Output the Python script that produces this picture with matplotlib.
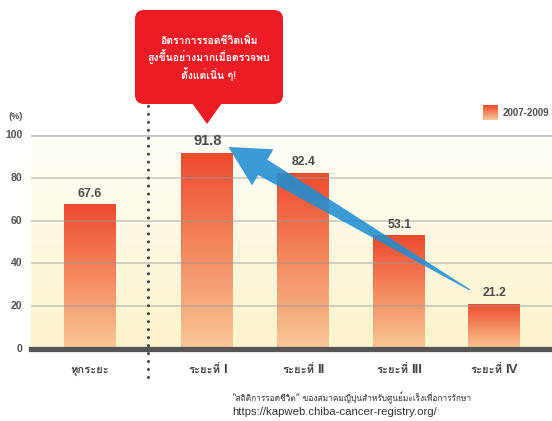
import matplotlib
matplotlib.use('Agg')
import matplotlib.pyplot as plt
import numpy as np
from matplotlib.patches import FancyBboxPatch, Polygon
from matplotlib.colors import LinearSegmentedColormap
from matplotlib.offsetbox import TextArea, HPacker, AnnotationBbox

# ---- data ----
categories = ["ทุกระยะ", "ระยะที่ I", "ระยะที่ II", "ระยะที่ III", "ระยะที่ IV"]
values = [67.6, 91.8, 82.4, 53.1, 21.2]
yticks = [0, 20, 40, 60, 80, 100]
legend_label = "2007-2009"
callout = "อัตราการรอดชีวิตเพิ่ม\nสูงขึ้นอย่างมากเมื่อตรวจพบ\nตั้งแต่เนิ่น ๆ!"
source1 = "“สถิติการรอดชีวิต” ของสมาคมญี่ปุ่นสำหรับศูนย์มะเร็งเพื่อการรักษา"
source2 = "https://kapweb.chiba-cancer-registry.org/"

FAM = ["Liberation Sans", "Loma", "DejaVu Sans"]
THAI = ["Loma", "DejaVu Sans"]
plt.rcParams['font.family'] = FAM

W, H = 552, 421
fig = plt.figure(figsize=(W / 100, H / 100), dpi=100)

ax_l, ax_r = 31, 552
y0_pix, y100_pix = 349, 135
ax = fig.add_axes([ax_l / W, (H - y0_pix) / H, (ax_r - ax_l) / W, (y0_pix - y100_pix) / H])
ax.set_axis_off()

x = np.array([0, 1.22, 2.22, 3.22, 4.21])
bw = 0.54
xmin, xmax = -0.615, 4.81

# background gradient
bg = LinearSegmentedColormap.from_list('bg', ['#FBF4CB', '#FFFEF8'])
ax.imshow(np.linspace(0, 1, 256).reshape(-1, 1), cmap=bg, origin='lower', aspect='auto',
          extent=[xmin, xmax, 0, 100], zorder=0)

# bars with gradient
barcm = LinearSegmentedColormap.from_list('bar', ['#F9C898', '#F48A5E', '#EE4A2E'])
bars = ax.bar(x, values, width=bw, facecolor='none', edgecolor='none', zorder=2)
for b, v in zip(bars, values):
    im = ax.imshow(np.linspace(0, 1, 256).reshape(-1, 1), cmap=barcm, origin='lower', aspect='auto',
                   extent=[b.get_x(), b.get_x() + b.get_width(), 0, v], zorder=2)
    im.set_clip_path(b)

# gridlines
for t in yticks[1:-1]:
    ax.axhline(t, color='#9a9a9a', lw=1.1, alpha=0.55, zorder=3)
ax.axhline(100, color='#c3c3c3', lw=2.6, zorder=3)
ax.axhline(0, color='#555555', lw=3.8, zorder=4, clip_on=False)

ax.set_xlim(xmin, xmax)
ax.set_ylim(0, 100)

# tick labels
for t in yticks:
    ax.text(xmin - 0.09, t, str(t), ha='right', va='center', fontsize=7.5, fontweight='bold',
            color='#505050', clip_on=False)
ax.text(xmin - 0.16, 108.5, "(%)", ha='center', va='center', fontsize=6.5, fontweight='bold',
        color='#505050', clip_on=False)

# value labels
for xi, v in zip(x, values):
    fs = 10.5 if v == max(values) else 8.8
    ax.text(xi, v + 2.0, f"{v:.1f}", ha='center', va='bottom', fontsize=fs, fontweight='bold',
            color='#4a4a4a', zorder=6)

# category labels: Thai part small, Roman numeral larger
for xi, c in zip(x, categories):
    parts = c.split(' ')
    children = [TextArea(parts[0], textprops=dict(fontsize=8, fontweight='bold', color='#444444',
                                                  family=THAI))]
    if len(parts) > 1:
        children.append(TextArea(parts[1], textprops=dict(fontsize=9.5, fontweight='bold',
                                                          color='#444444',
                                                          family=["Liberation Sans Narrow",
                                                                  "Liberation Sans"])))
    pack = HPacker(children=children, sep=2, pad=0, align='baseline')
    ab = AnnotationBbox(pack, (xi, -10.0), xycoords='data', frameon=False, box_alignment=(0.5, 0.5),
                        annotation_clip=False, pad=0)
    ax.add_artist(ab)

# dotted separator
sep_x = (x[0] + x[1]) / 2 - 0.01
ax.plot([sep_x, sep_x], [-13.2, 120.5], color='#444444', lw=2.2, ls=(0, (0.01, 2.6)),
        dash_capstyle='round', clip_on=False, zorder=5)

# arrow from stage IV to stage I (display coordinates)
tail = ax.transData.transform((x[4] - 0.255, values[4] + 6.4))
tip = ax.transData.transform((x[1] + 0.22, values[1] + 2.6))
u = (tip - tail) / np.linalg.norm(tip - tail)
n = np.array([-u[1], u[0]])
L, hw, sw, tw = 40, 21, 9, 0.6
base = tip - u * L
pts = [tail + n * tw, base + n * sw, base + n * hw, tip, base - n * hw, base - n * sw, tail - n * tw]
arrow = Polygon(pts, closed=True, transform=None, facecolor='#1F8ED4', edgecolor='none',
                alpha=0.88, zorder=5)
fig.patches.append(arrow)
arrow.set_figure(fig)

# overlay axes in pixel coordinates
ov = fig.add_axes([0, 0, 1, 1])
ov.set_xlim(0, W)
ov.set_ylim(H, 0)
ov.set_axis_off()
ov.patch.set_alpha(0)

box = FancyBboxPatch((135, 10), 148, 94, boxstyle="round,pad=0,rounding_size=9",
                     facecolor='#ED1C24', edgecolor='none', zorder=6)
ov.add_patch(box)
ov.add_patch(Polygon([(192, 103), (222, 103), (207, 124)], closed=True, facecolor='#ED1C24',
                     edgecolor='none', zorder=6))
ov.text(209, 58, callout, ha='center', va='center', fontsize=7.5, fontweight='bold',
        color='white', linespacing=1.3, zorder=7, family=THAI)

# legend
leg = ov.inset_axes([483, 105, 15, 15], transform=ov.transData)
leg.imshow(np.linspace(0, 1, 64).reshape(-1, 1), cmap=barcm, origin='lower', aspect='auto')
leg.set_axis_off()
ov.text(503, 112.5, legend_label, ha='left', va='center', fontsize=7, fontweight='bold',
        color='#505050')

# source
ov.text(232, 398, source1, ha='left', va='center', fontsize=6, color='#333333', family=THAI)
ov.text(232, 412, source2, ha='left', va='center', fontsize=8.2, color='#333333')

fig.savefig('out.png', dpi=100)
